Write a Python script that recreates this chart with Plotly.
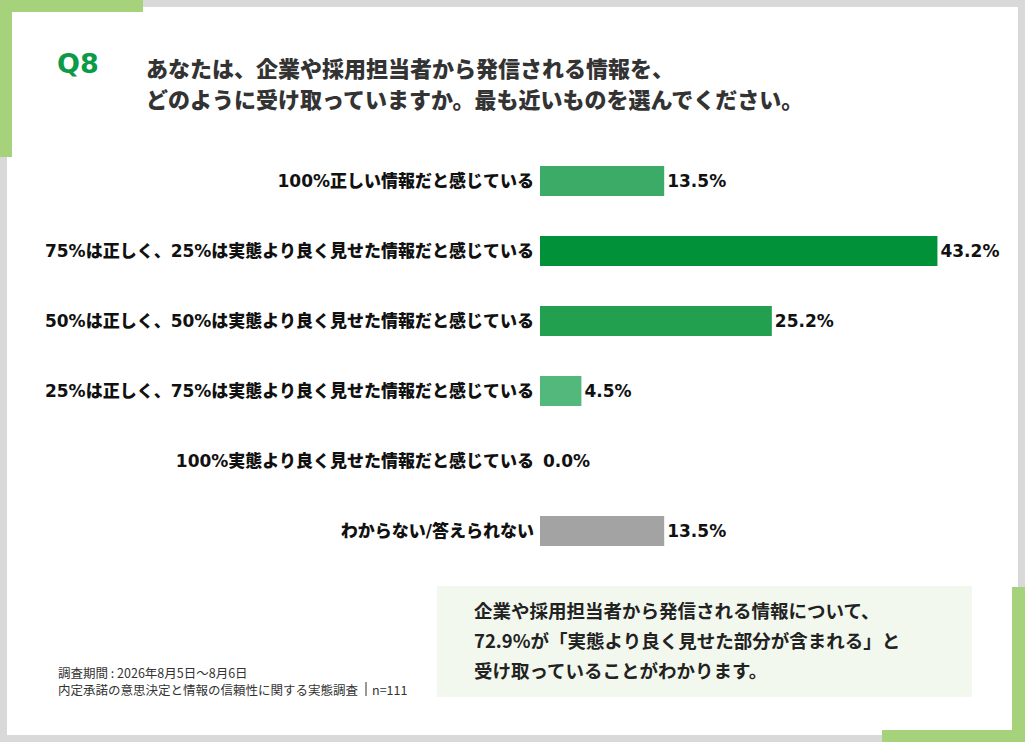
import plotly.graph_objects as go

# data
categories = [
    "100%正しい情報だと感じている",
    "75%は正しく、25%は実態より良く見せた情報だと感じている",
    "50%は正しく、50%は実態より良く見せた情報だと感じている",
    "25%は正しく、75%は実態より良く見せた情報だと感じている",
    "100%実態より良く見せた情報だと感じている",
    "わからない/答えられない",
]
values = [13.5, 43.2, 25.2, 4.5, 0.0, 13.5]
bar_colors = ["#3dab68", "#009139", "#22a04f", "#52b87b", "#52b87b", "#a3a3a3"]

title_lines = [
    "あなたは、企業や採用担当者から発信される情報を、",
    "どのように受け取っていますか。最も近いものを選んでください。",
]
note_lines = [
    "調査期間 : 2026年8月5日～8月6日",
    "内定承諾の意思決定と情報の信頼性に関する実態調査",
]
sample_size = "n=111"
summary_lines = [
    "企業や採用担当者から発信される情報について、",
    "72.9%が「実態より良く見せた部分が含まれる」と",
    "受け取っていることがわかります。",
]

W, H = 1025, 742
L, R, T, B = 540, 25, 146, 176
PW, PH = W - L - R, H - T - B
JP = "Noto Sans CJK JP"
MIX = "DejaVu Sans, Noto Sans CJK JP"


# pixel -> paper coordinates
def px(x):
    return (x - L) / PW


def py(y):
    return (H - B - y) / PH


def rect(x0, y0, x1, y1, color, layer="below"):
    return dict(type="rect", xref="paper", yref="paper",
                x0=px(x0), x1=px(x1), y0=py(y1), y1=py(y0),
                fillcolor=color, line=dict(width=0), layer=layer)


fig = go.Figure(go.Bar(
    x=values,
    y=categories,
    orientation="h",
    marker=dict(color=bar_colors, line=dict(width=0)),
    width=0.43,
    text=[f"{v:.1f}%" for v in values],
    textposition="outside",
    textfont=dict(family="DejaVu Sans", size=17, color="#111111", weight=700),
    cliponaxis=False,
    hoverinfo="skip",
))

shapes = [
    rect(7, 7, 1018, 735, "white"),
    rect(0, 0, 143, 12, "#a6d27b"),
    rect(0, 0, 12, 157, "#a6d27b"),
    rect(882, 730, 1025, 742, "#a6d27b"),
    rect(1012, 587, 1025, 742, "#a6d27b"),
    rect(437, 586, 972, 697, "#f2f8ed"),
    # separator before n=
    dict(type="line", xref="paper", yref="paper",
         x0=px(366), x1=px(366), y0=py(696), y1=py(682),
         line=dict(color="#333333", width=1)),
]

annotations = [
    dict(text="Q8", x=px(55), y=py(63), xanchor="left", yanchor="middle",
         font=dict(family="DejaVu Sans", size=27, color="#0a9a48", weight=700)),
    dict(text=sample_size, x=px(370), y=py(689), xanchor="left", yanchor="middle",
         font=dict(family=JP, size=12.5, color="#333333")),
]
for i, line in enumerate(title_lines):
    annotations.append(dict(text=line, x=px(144), y=py(67 + 31 * i),
                            xanchor="left", yanchor="middle",
                            font=dict(family=JP, size=22, color="#333333", weight=900)))
for i, line in enumerate(note_lines):
    annotations.append(dict(text=line, x=px(56), y=py(672 + 17 * i),
                            xanchor="left", yanchor="middle",
                            font=dict(family=JP, size=12.5, color="#333333")))
for i, line in enumerate(summary_lines):
    annotations.append(dict(text=line, x=px(472), y=py(610 + 30 * i),
                            xanchor="left", yanchor="middle",
                            font=dict(family=JP, size=18.5, color="#222222", weight=700)))
for a in annotations:
    a.update(xref="paper", yref="paper", showarrow=False)

fig.update_layout(
    width=W, height=H,
    margin=dict(l=L, r=R, t=T, b=B),
    paper_bgcolor="#d9d9d9",
    plot_bgcolor="rgba(0,0,0,0)",
    showlegend=False,
    shapes=shapes,
    annotations=annotations,
    font=dict(family=JP),
)
fig.update_xaxes(range=[0, 50], visible=False)
fig.update_yaxes(autorange="reversed", showgrid=False, zeroline=False,
                 showline=False, ticks="", ticklabelstandoff=5,
                 tickfont=dict(family=MIX, size=17, color="#111111", weight=900))

fig.write_html("out.html", config={"displayModeBar": False},
               post_script="document.body.style.margin='0';")
